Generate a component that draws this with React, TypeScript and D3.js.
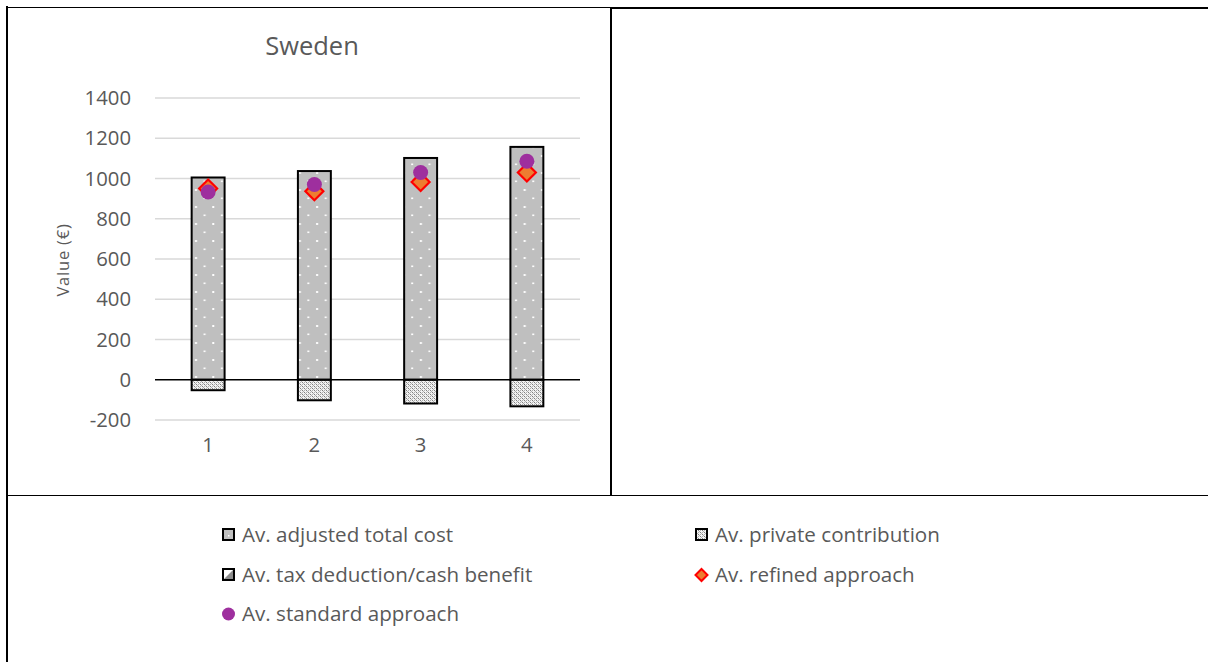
import React from "react";
import * as d3 from "d3";

// Categories and series
const categories = ["1", "2", "3", "4"];
const adjustedTotalCost = [1005, 1037, 1102, 1157];
const privateContribution = [-52, -102, -118, -132];
const taxDeduction = [0, 0, 0, 0];
const refinedApproach = [950, 937, 983, 1030];
const standardApproach = [933, 970, 1030, 1086];
const yTicks = [-200, 0, 200, 400, 600, 800, 1000, 1200, 1400];

const W = 1208;
const H = 662;
const FONT = "'Open Sans', 'Noto Sans', sans-serif";
const TXT = "#595959";

const legendItems = [
  { label: "Av. adjusted total cost", kind: "cost", col: 0, row: 0 },
  { label: "Av. private contribution", kind: "private", col: 1, row: 0 },
  { label: "Av. tax deduction/cash benefit", kind: "tax", col: 0, row: 1 },
  { label: "Av. refined approach", kind: "refined", col: 1, row: 1 },
  { label: "Av. standard approach", kind: "standard", col: 0, row: 2 },
];

function diamond(cx: number, cy: number, r: number) {
  return `M${cx},${cy - r}L${cx + r},${cy}L${cx},${cy + r}L${cx - r},${cy}Z`;
}

export default function App() {
  const x = d3
    .scaleBand<string>()
    .domain(categories)
    .range([155, 580])
    .paddingInner(0.69)
    .paddingOuter(0.345);
  const y = d3.scaleLinear().domain([-200, 1400]).range([420, 98]);
  const bw = x.bandwidth();
  const cx = (c: string) => (x(c) as number) + bw / 2;

  const legendX = [222, 695];
  const legendY = [535, 575, 614];

  return (
    <svg
      width={W}
      height={H}
      style={{ position: "absolute", left: 0, top: 0, background: "#fff" }}
      fontFamily={FONT}
    >
      <defs>
        <pattern id="dots" x="191" y="0" width="17.3" height="17" patternUnits="userSpaceOnUse">
          <rect width="17.3" height="17" fill="#bfbfbf" />
          <rect x="4" y="2" width="2" height="2" fill="#fff" />
          <rect x="12.6" y="10.5" width="2" height="1.6" fill="#fff" />
        </pattern>
        <pattern id="cross" width="4" height="4" patternUnits="userSpaceOnUse">
          <rect width="4" height="4" fill="#f2f2f2" />
          <rect x="0" y="0" width="1" height="1" fill="#7f7f7f" />
          <rect x="2" y="2" width="1" height="1" fill="#7f7f7f" />
          <rect x="1" y="1" width="1" height="1" fill="#b0b0b0" />
          <rect x="3" y="3" width="1" height="1" fill="#b0b0b0" />
          <rect x="2" y="0" width="1" height="1" fill="#b0b0b0" />
          <rect x="0" y="2" width="1" height="1" fill="#b0b0b0" />
        </pattern>
        <pattern id="diag" width="12" height="12" patternUnits="userSpaceOnUse">
          <rect width="12" height="12" fill="#fff" />
          <path d="M0,12L12,0L12,12Z" fill="#7f7f7f" />
        </pattern>
      </defs>

      {/* table frame */}
      <g stroke="#000" fill="none">
        <line x1={7} y1={6} x2={7} y2={H} strokeWidth={2} />
        <line x1={6} y1={7.5} x2={611} y2={7.5} strokeWidth={1} />
        <line x1={610} y1={8} x2={W} y2={8} strokeWidth={2} />
        <line x1={611} y1={7} x2={611} y2={495} strokeWidth={2} />
        <line x1={8} y1={495.5} x2={W} y2={495.5} strokeWidth={1} />
      </g>

      {/* title */}
      <text x={312} y={55} textAnchor="middle" fontSize={25.5} fill={TXT}>
        Sweden
      </text>

      {/* gridlines */}
      {yTicks
        .filter((t) => t !== 0)
        .map((t) => (
          <line key={t} x1={155} x2={580} y1={y(t)} y2={y(t)} stroke="#d9d9d9" strokeWidth={1.3} />
        ))}

      {/* y tick labels */}
      {yTicks.map((t) => (
        <text key={t} x={131} y={y(t) + 7} textAnchor="end" fontSize={20.3} fill={TXT}>
          {t}
        </text>
      ))}

      {/* y axis title */}
      <text
        transform={`translate(69,260) rotate(-90)`}
        textAnchor="middle"
        fontSize={16.5}
        letterSpacing={0.8}
        fill={TXT}
      >
        Value (€)
      </text>

      {/* bars */}
      {categories.map((c, i) => (
        <g key={c} stroke="#000" strokeWidth={2}>
          <rect
            x={x(c)}
            y={y(adjustedTotalCost[i])}
            width={bw}
            height={y(0) - y(adjustedTotalCost[i])}
            fill="url(#dots)"
          />
          <rect
            x={x(c)}
            y={y(0)}
            width={bw}
            height={y(privateContribution[i]) - y(0)}
            fill="url(#cross)"
          />
          {taxDeduction[i] !== 0 && (
            <rect
              x={x(c)}
              y={y(adjustedTotalCost[i] + taxDeduction[i])}
              width={bw}
              height={y(adjustedTotalCost[i]) - y(adjustedTotalCost[i] + taxDeduction[i])}
              fill="url(#diag)"
            />
          )}
        </g>
      ))}

      {/* zero line */}
      <line x1={155} x2={580} y1={y(0)} y2={y(0)} stroke="#000" strokeWidth={1.5} />

      {/* x labels */}
      {categories.map((c) => (
        <text key={c} x={cx(c)} y={452} textAnchor="middle" fontSize={20.3} fill={TXT}>
          {c}
        </text>
      ))}

      {/* markers */}
      {categories.map((c, i) => (
        <path
          key={"r" + c}
          d={diamond(cx(c), y(refinedApproach[i]), 9)}
          fill="#ed7d31"
          stroke="#ff0000"
          strokeWidth={2.2}
        />
      ))}
      {categories.map((c, i) => (
        <circle key={"s" + c} cx={cx(c)} cy={y(standardApproach[i])} r={7.5} fill="#9e2f9e" />
      ))}

      {/* legend */}
      {legendItems.map((it) => {
        const lx = legendX[it.col];
        const ly = legendY[it.row];
        let marker;
        if (it.kind === "cost")
          marker = (
            <g>
              <rect x={lx + 1} y={ly - 6} width={11} height={11} fill="#bfbfbf" stroke="#000" strokeWidth={2} />
              <rect x={lx + 6} y={ly} width={1.5} height={1.5} fill="#fff" />
            </g>
          );
        else if (it.kind === "private")
          marker = <rect x={lx + 1} y={ly - 6} width={11} height={11} fill="url(#cross)" stroke="#000" strokeWidth={2} />;
        else if (it.kind === "tax")
          marker = (
            <g>
              <rect x={lx + 1} y={ly - 6} width={11} height={11} fill="#fff" />
              <path
                d={`M${lx + 1},${ly + 5}L${lx + 12},${ly - 6}L${lx + 12},${ly + 5}Z`}
                fill="#8c8c8c"
              />
              <rect x={lx + 1} y={ly - 6} width={11} height={11} fill="none" stroke="#000" strokeWidth={2} />
            </g>
          );
        else if (it.kind === "refined")
          marker = <path d={diamond(lx + 6.5, ly, 6)} fill="#ed7d31" stroke="#ff0000" strokeWidth={2} />;
        else marker = <circle cx={lx + 6.5} cy={ly} r={6.5} fill="#9e2f9e" />;
        return (
          <g key={it.label}>
            {marker}
            <text x={lx + 20} y={ly + 7} fontSize={20.6} fill={TXT}>
              {it.label}
            </text>
          </g>
        );
      })}
    </svg>
  );
}
